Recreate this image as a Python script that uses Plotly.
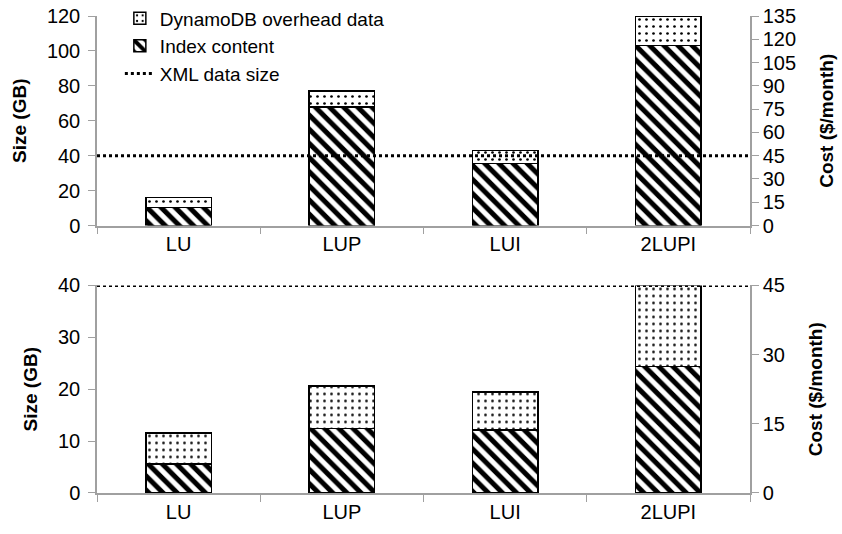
import plotly.graph_objects as go
from plotly.subplots import make_subplots

categories = ["LU", "LUP", "LUI", "2LUPI"]
# top panel (GB)
top_index = [10.3, 68.0, 35.4, 103.0]
top_overhead = [5.7, 9.0, 7.5, 17.0]
top_xml = 40
# bottom panel (GB)
bot_index = [5.6, 12.4, 12.1, 24.4]
bot_overhead = [6.0, 8.2, 7.4, 15.7]
bot_xml = 40
# cost conversion ($/month per GB)
cost_per_gb = 1.125

FONT = "Liberation Sans, Arial, sans-serif"
AX = "#a0a0a0"

fig = make_subplots(rows=2, cols=1, specs=[[{"secondary_y": True}], [{"secondary_y": True}]])

stripe = dict(shape="\\", fgcolor="black", bgcolor="white", size=10, solidity=0.5, fgopacity=1)
dots = dict(shape=".", fgcolor="black", bgcolor="white", size=7, solidity=0.12, fgopacity=1)

for row, idx, ovh, show in [(1, top_index, top_overhead, True), (2, bot_index, bot_overhead, False)]:
    fig.add_trace(go.Bar(x=categories, y=idx, name="Index content", legendrank=2,
                         marker=dict(color="white", pattern=stripe, line=dict(color="black", width=1.5)),
                         width=0.4, showlegend=show, legendgroup="idx"), row=row, col=1)
    fig.add_trace(go.Bar(x=categories, y=ovh, name="DynamoDB overhead data", legendrank=1,
                         marker=dict(color="white", pattern=dots, line=dict(color="black", width=1.5)),
                         width=0.4, showlegend=show, legendgroup="ovh"), row=row, col=1)

fig.update_layout(barmode="stack")

# XML data size lines
fig.add_shape(type="line", xref="x domain", yref="y", x0=0, x1=1, y0=top_xml, y1=top_xml,
              line=dict(color="black", width=3, dash="dot"), showlegend=True,
              name="XML data size", legendrank=3)
fig.add_shape(type="line", xref="x2 domain", yref="y3", x0=0, x1=1, y0=bot_xml, y1=bot_xml,
              line=dict(color="black", width=3, dash="dot"))

tickfont = dict(family=FONT, size=20, color="black")
titlefont = dict(family=FONT, size=19, color="black", weight="bold")

common_x = dict(type="category", tickson="boundaries", ticks="outside", ticklen=7, tickcolor=AX,
                showline=True, linecolor=AX, linewidth=1.5, tickfont=tickfont, showgrid=False,
                automargin=False, ticklabeloverflow="allow")
fig.update_xaxes(**common_x)

common_y = dict(ticks="outside", ticklen=7, tickcolor=AX, showline=True, linecolor=AX, linewidth=1.5,
                tickfont=tickfont, showgrid=False, zeroline=False, automargin=False,
                ticklabeloverflow="allow")

fig.update_layout(
    yaxis=dict(range=[0, 120], dtick=20, title=dict(text="Size (GB)", font=titlefont, standoff=15),
               domain=[0.5607, 1], ticklabelstandoff=4, **common_y),
    yaxis2=dict(range=[0, 120 * cost_per_gb], dtick=15, title=dict(text="Cost ($/month)", font=titlefont, standoff=25),
                overlaying="y", side="right", **common_y),
    yaxis3=dict(range=[0, 40], dtick=10, title=dict(text="Size (GB)", font=titlefont, standoff=15),
                domain=[0, 0.4351], ticklabelstandoff=4, **common_y),
    yaxis4=dict(range=[0, 40 * cost_per_gb], dtick=15, title=dict(text="Cost ($/month)", font=titlefont, standoff=25),
                overlaying="y3", side="right", **common_y),
    xaxis=dict(domain=[0, 1]),
    xaxis2=dict(domain=[0, 1]),
)

# invisible traces so secondary axes are drawn
fig.add_trace(go.Scatter(x=categories, y=[None] * 4, showlegend=False, hoverinfo="skip"), row=1, col=1, secondary_y=True)
fig.add_trace(go.Scatter(x=categories, y=[None] * 4, showlegend=False, hoverinfo="skip"), row=2, col=1, secondary_y=True)

fig.update_layout(
    width=842, height=534,
    margin=dict(l=97, r=92, t=16, b=41, autoexpand=False),
    plot_bgcolor="white", paper_bgcolor="white",
    font=dict(family=FONT, size=20, color="black"),
    bargap=0.6,
    legend=dict(x=0.035, y=1.035, xanchor="left", yanchor="top", bgcolor="rgba(0,0,0,0)",
                font=dict(family=FONT, size=19, color="black"), tracegroupgap=0, itemwidth=30),
)

fig.write_html("out.html", config={"displayModeBar": False},
               post_script="document.body.style.margin='0';document.body.style.overflow='hidden';")
